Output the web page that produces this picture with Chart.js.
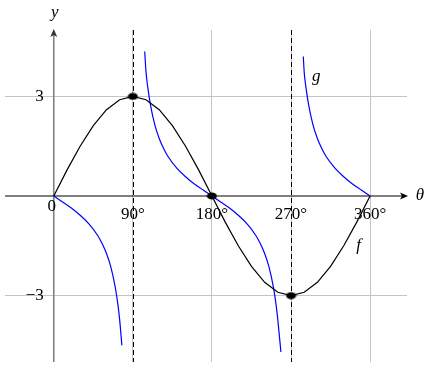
<!DOCTYPE html>
<html>
<head>
<meta charset="utf-8">
<script src="https://cdn.jsdelivr.net/npm/chart.js@4"></script>
<style>
  body { margin: 0; background: #fff; }
</style>
</head>
<body>
<canvas id="myChart" width="433" height="367"></canvas>
<script>
// f curve, sampled every 15 degrees
var thetaF = [0,15,30,45,60,75,90,105,120,135,150,165,180,195,210,225,240,255,270,285,300,315,330,345,360];
var fValues = [0,0.78,1.5,2.12,2.6,2.9,3,2.9,2.6,2.12,1.5,0.78,0,-0.78,-1.5,-2.12,-2.6,-2.9,-3,-2.9,-2.6,-2.12,-1.5,-0.78,0];

// g curve, four branches
var thetaG1 = [0,10,20,30,40,50,55,60,65,70,73,75,77.5];
var gValues1 = [0,-0.18,-0.36,-0.58,-0.84,-1.19,-1.43,-1.73,-2.14,-2.75,-3.27,-3.73,-4.5];
var thetaG2 = [103.5,105,107,110,115,120,125,130,140,150,160,170,180];
var gValues2 = [4.35,3.73,3.27,2.75,2.14,1.73,1.43,1.19,0.84,0.58,0.36,0.18,0];
var thetaG3 = [180,190,200,210,220,230,235,240,245,250,253,255,258.5];
var gValues3 = [0,-0.18,-0.36,-0.58,-0.84,-1.19,-1.43,-1.73,-2.14,-2.75,-3.27,-3.73,-4.7];
var thetaG4 = [284,285,287,290,295,300,305,310,320,330,340,350,360];
var gValues4 = [4.2,3.73,3.27,2.75,2.14,1.73,1.43,1.19,0.84,0.58,0.36,0.18,0];

// marked points
var dotTheta = [90,180,270];
var dotValues = [3,0,-3];

// ticks
var xTicks = [90,180,270,360];
var xTickLabels = ["90°","180°","270°","360°"];
var yTicks = [-3,3];
var yTickLabels = ["−3","3"];
var asymptotes = [90,270];

function pts(xs, ys) {
  return xs.map(function (x, i) { return { x: x, y: ys[i] }; });
}

// ellipse marker like in the picture
var dot = document.createElement('canvas');
dot.width = 11; dot.height = 8;
var dctx = dot.getContext('2d');
dctx.fillStyle = '#000';
dctx.beginPath();
dctx.ellipse(5.5, 4, 5, 3.6, 0, 0, Math.PI * 2);
dctx.fill();

var serif = "'Liberation Serif', 'DejaVu Serif', serif";

var axesPlugin = {
  id: 'axesPlugin',
  beforeDatasetsDraw: function (chart) {
    var c = chart.ctx, a = chart.chartArea;
    var xs = chart.scales.x, ys = chart.scales.y;
    var x0 = xs.getPixelForValue(0), y0 = ys.getPixelForValue(0);
    c.save();
    // dashed asymptotes
    c.strokeStyle = '#000';
    c.lineWidth = 1;
    c.setLineDash([5, 3]);
    asymptotes.forEach(function (v) {
      var px = Math.round(xs.getPixelForValue(v)) + 0.5;
      c.beginPath();
      c.moveTo(px, a.top);
      c.lineTo(px, a.bottom);
      c.stroke();
    });
    c.setLineDash([]);
    // y axis
    c.strokeStyle = '#808080';
    c.lineWidth = 1.6;
    c.beginPath();
    c.moveTo(x0, a.bottom);
    c.lineTo(x0, a.top + 4);
    c.stroke();
    c.fillStyle = '#333';
    c.beginPath();
    c.moveTo(x0, a.top - 1);
    c.lineTo(x0 - 3.5, a.top + 7);
    c.lineTo(x0, a.top + 5);
    c.lineTo(x0 + 3.5, a.top + 7);
    c.closePath();
    c.fill();
    // x axis
    c.strokeStyle = '#000';
    c.lineWidth = 1.2;
    c.beginPath();
    c.moveTo(a.left, y0);
    c.lineTo(a.right - 4, y0);
    c.stroke();
    c.fillStyle = '#000';
    c.beginPath();
    c.moveTo(a.right + 1, y0);
    c.lineTo(a.right - 7, y0 - 3.5);
    c.lineTo(a.right - 5, y0);
    c.lineTo(a.right - 7, y0 + 3.5);
    c.closePath();
    c.fill();
    c.restore();
  },
  afterDraw: function (chart) {
    var c = chart.ctx, a = chart.chartArea;
    var xs = chart.scales.x, ys = chart.scales.y;
    var x0 = xs.getPixelForValue(0), y0 = ys.getPixelForValue(0);
    c.save();
    c.fillStyle = '#000';
    c.font = '17px ' + serif;
    c.textBaseline = 'middle';
    c.textAlign = 'center';
    xTicks.forEach(function (v, i) {
      c.fillText(xTickLabels[i], xs.getPixelForValue(v), y0 + 19);
    });
    c.fillText('0', x0 - 2, y0 + 11);
    c.textAlign = 'right';
    yTicks.forEach(function (v, i) {
      c.fillText(yTickLabels[i], x0 - 10, ys.getPixelForValue(v));
    });
    c.font = 'italic 17px ' + serif;
    c.textAlign = 'center';
    c.fillText('y', x0 + 1, 13);
    c.fillText('θ', a.right + 13, y0);
    c.fillText('g', xs.getPixelForValue(300) - 1, ys.getPixelForValue(3.6));
    c.fillText('f', xs.getPixelForValue(347), ys.getPixelForValue(-1.5));
    c.restore();
  }
};

var ctx = document.getElementById("myChart");
var myChart = new Chart(ctx, {
  type: 'scatter',
  data: {
    datasets: [
      {
        data: pts(dotTheta, dotValues),
        pointStyle: dot,
        showLine: false
      },
      {
        data: pts(thetaF, fValues),
        showLine: true,
        borderColor: '#000',
        borderWidth: 1.2,
        pointRadius: 0,
        tension: 0
      },
      {
        data: pts(thetaG1, gValues1),
        showLine: true,
        borderColor: '#0000ff',
        borderWidth: 1.2,
        pointRadius: 0,
        cubicInterpolationMode: 'monotone'
      },
      {
        data: pts(thetaG2, gValues2),
        showLine: true,
        borderColor: '#0000ff',
        borderWidth: 1.2,
        pointRadius: 0,
        cubicInterpolationMode: 'monotone'
      },
      {
        data: pts(thetaG3, gValues3),
        showLine: true,
        borderColor: '#0000ff',
        borderWidth: 1.2,
        pointRadius: 0,
        cubicInterpolationMode: 'monotone'
      },
      {
        data: pts(thetaG4, gValues4),
        showLine: true,
        borderColor: '#0000ff',
        borderWidth: 1.2,
        pointRadius: 0,
        cubicInterpolationMode: 'monotone'
      }
    ]
  },
  options: {
    responsive: false,
    animation: false,
    events: [],
    layout: { padding: { left: 3, right: 26, top: 30, bottom: 0 } },
    plugins: { legend: { display: false }, tooltip: { enabled: false } },
    scales: {
      x: {
        type: 'linear',
        min: -55.5,
        max: 402,
        afterBuildTicks: function (s) { s.ticks = xTicks.map(function (v) { return { value: v }; }); },
        ticks: { display: false },
        border: { display: false },
        grid: { color: '#c4c4c4', lineWidth: 1, drawTicks: false }
      },
      y: {
        type: 'linear',
        min: -5,
        max: 5,
        afterBuildTicks: function (s) { s.ticks = yTicks.map(function (v) { return { value: v }; }); },
        ticks: { display: false },
        border: { display: false },
        grid: { color: '#c4c4c4', lineWidth: 1, drawTicks: false }
      }
    }
  },
  plugins: [axesPlugin]
});
</script>
</body>
</html>
